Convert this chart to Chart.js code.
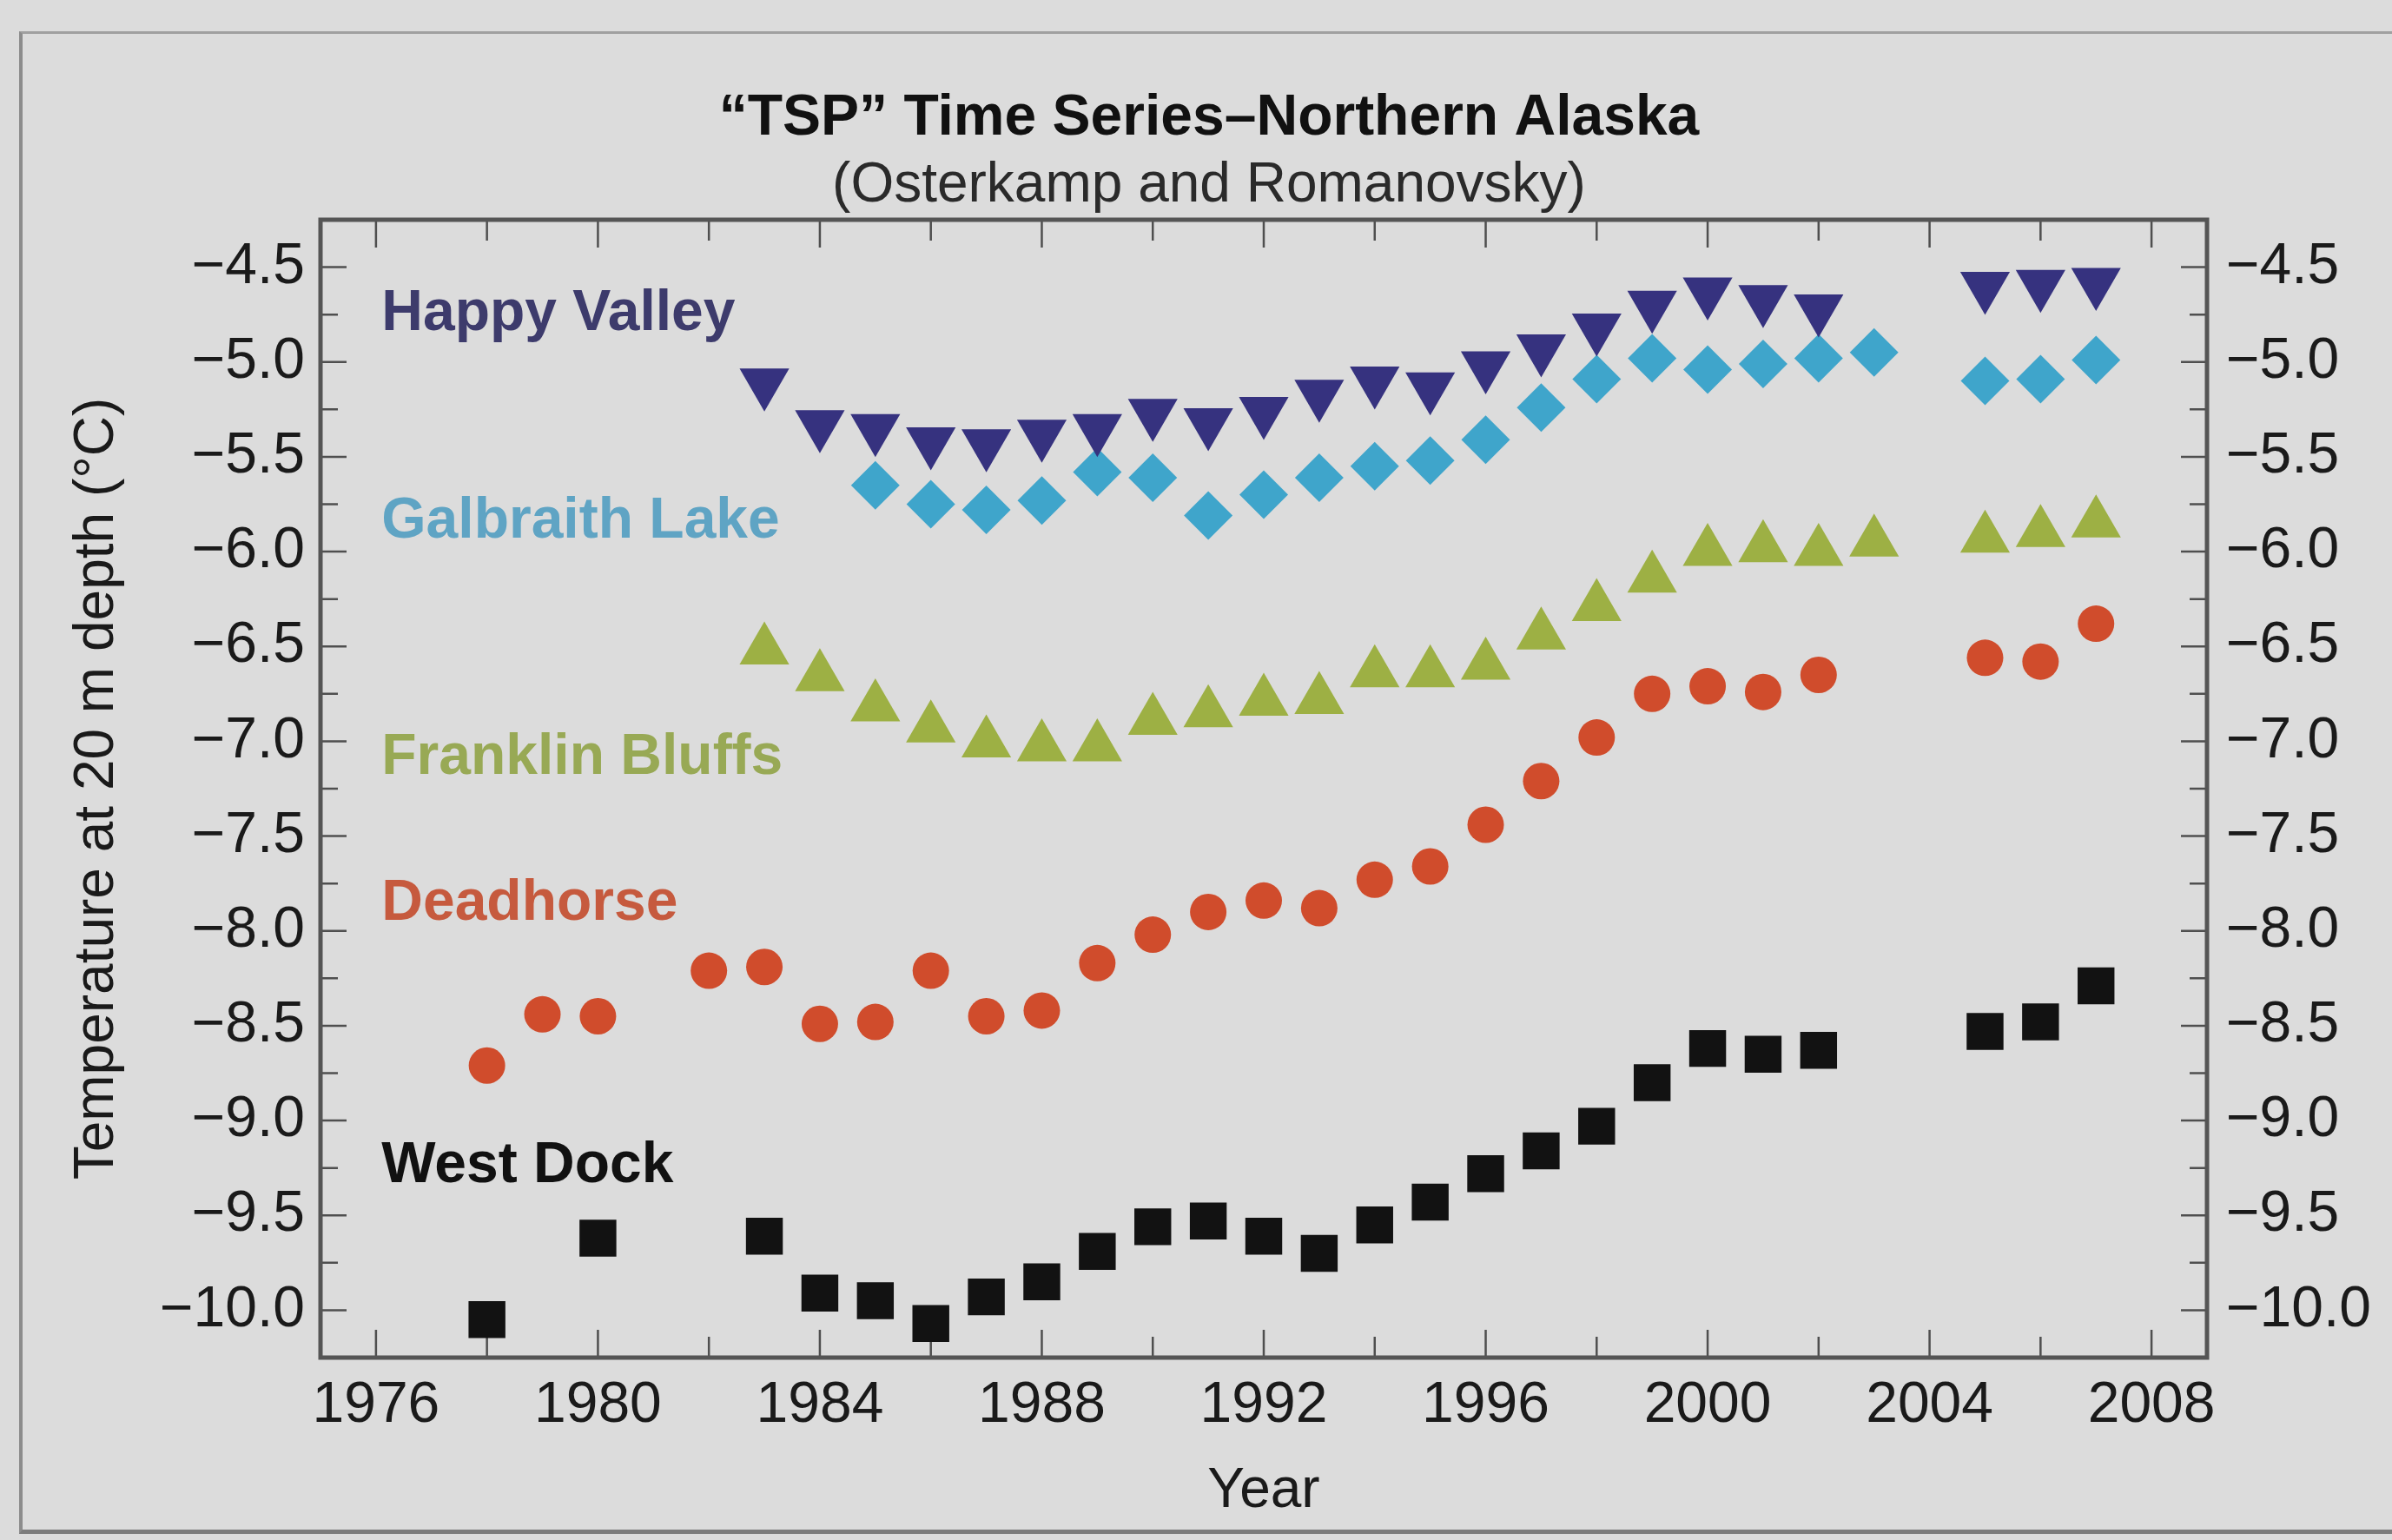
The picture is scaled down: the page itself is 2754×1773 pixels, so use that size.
<!DOCTYPE html>
<html>
<head>
<meta charset="utf-8">
<title>TSP Time Series - Northern Alaska</title>
<script src="https://cdn.jsdelivr.net/npm/chart.js@4.4.1/dist/chart.umd.min.js"></script>
<style>
  html, body { margin: 0; padding: 0; background: #dcdcdc; }
  #wrap { position: relative; width: 2754px; height: 1773px; overflow: hidden; }
  #page { position: absolute; left: 22px; top: 36px; width: 2800px; height: 1722px;
          border-left: 4px solid #8c8c8c; border-top: 3px solid #a0a0a0; border-bottom: 5px solid #7c7c7c; }
  canvas { position: absolute; left: 0; top: 0; }
</style>
</head>
<body>
<div id="wrap">
  <div id="page"></div>
  <canvas id="tspChart" width="2754" height="1773"></canvas>
</div>
<script>
// years on the axis and temperature ticks (deg C at 20 m depth)
const yearTicks = [1976, 1980, 1984, 1988, 1992, 1996, 2000, 2004, 2008];
const tempTicks = [-10.0, -9.5, -9.0, -8.5, -8.0, -7.5, -7.0, -6.5, -6.0, -5.5, -5.0, -4.5];

const hvYears = [1983, 1984, 1985, 1986, 1987, 1988, 1989, 1990, 1991, 1992, 1993, 1994, 1995, 1996, 1997, 1998, 1999, 2000, 2001, 2002, 2005, 2006, 2007];
const hvTemps = [-5.11, -5.33, -5.35, -5.42, -5.43, -5.38, -5.35, -5.27, -5.32, -5.26, -5.17, -5.10, -5.13, -5.02, -4.93, -4.82, -4.70, -4.63, -4.67, -4.72, -4.60, -4.59, -4.58];

const glYears = [1985, 1986, 1987, 1988, 1989, 1990, 1991, 1992, 1993, 1994, 1995, 1996, 1997, 1998, 1999, 2000, 2001, 2002, 2003, 2005, 2006, 2007];
const glTemps = [-5.65, -5.75, -5.78, -5.73, -5.58, -5.61, -5.81, -5.70, -5.61, -5.55, -5.52, -5.41, -5.24, -5.09, -4.98, -5.04, -5.01, -4.98, -4.95, -5.10, -5.09, -4.99];

const fbYears = [1983, 1984, 1985, 1986, 1987, 1988, 1989, 1990, 1991, 1992, 1993, 1994, 1995, 1996, 1997, 1998, 1999, 2000, 2001, 2002, 2003, 2005, 2006, 2007];
const fbTemps = [-6.52, -6.66, -6.82, -6.93, -7.01, -7.03, -7.03, -6.89, -6.85, -6.79, -6.78, -6.64, -6.64, -6.60, -6.44, -6.29, -6.14, -6.00, -5.98, -6.00, -5.95, -5.93, -5.90, -5.85];

const dhYears = [1978, 1979, 1980, 1982, 1983, 1984, 1985, 1986, 1987, 1988, 1989, 1990, 1991, 1992, 1993, 1994, 1995, 1996, 1997, 1998, 1999, 2000, 2001, 2002, 2005, 2006, 2007];
const dhTemps = [-8.71, -8.44, -8.45, -8.21, -8.19, -8.49, -8.48, -8.21, -8.45, -8.42, -8.17, -8.02, -7.90, -7.84, -7.88, -7.73, -7.66, -7.44, -7.21, -6.98, -6.75, -6.71, -6.74, -6.65, -6.56, -6.58, -6.38];

const wdYears = [1978, 1980, 1983, 1984, 1985, 1986, 1987, 1988, 1989, 1990, 1991, 1992, 1993, 1994, 1995, 1996, 1997, 1998, 1999, 2000, 2001, 2002, 2005, 2006, 2007];
const wdTemps = [-10.05, -9.62, -9.61, -9.91, -9.95, -10.07, -9.93, -9.85, -9.69, -9.56, -9.53, -9.61, -9.70, -9.55, -9.43, -9.28, -9.16, -9.03, -8.80, -8.62, -8.65, -8.63, -8.53, -8.48, -8.29];

const FONT = '"Liberation Sans", Arial, sans-serif';
Chart.defaults.font.family = FONT;
Chart.defaults.color = '#1a1a1a';

function points(years, temps) {
  return years.map((yr, i) => ({ x: yr, y: temps[i] }));
}

function fmtTemp(v) {
  return (v < 0 ? '\u2212' : '') + Math.abs(v).toFixed(1);
}

// frame of the plot with inward tick marks on all four sides
const frameTicks = {
  id: 'frameTicks',
  beforeDatasetsDraw(chart) {
    const { ctx, chartArea: a, scales: { x, y } } = chart;
    ctx.save();
    ctx.strokeStyle = '#4f4f4f';
    ctx.lineWidth = 2.5;
    ctx.beginPath();
    for (let v = -10; v <= -4.5 + 1e-9; v += 0.25) {
      const py = y.getPixelForValue(v);
      const major = Math.abs(v * 2 - Math.round(v * 2)) < 1e-6;
      const len = major ? 30 : 20;
      ctx.moveTo(a.left, py); ctx.lineTo(a.left + len, py);
      ctx.moveTo(a.right, py); ctx.lineTo(a.right - len, py);
    }
    for (let yr = 1976; yr <= 2008; yr += 2) {
      const px = x.getPixelForValue(yr);
      const len = yr % 4 === 0 ? 32 : 24;
      ctx.moveTo(px, a.bottom); ctx.lineTo(px, a.bottom - len);
      ctx.moveTo(px, a.top); ctx.lineTo(px, a.top + len);
    }
    ctx.stroke();
    ctx.lineWidth = 5;
    ctx.strokeStyle = '#555555';
    ctx.strokeRect(a.left, a.top, a.width, a.height);
    ctx.restore();
  }
};

// station names written inside the plot
const stationLabels = {
  id: 'stationLabels',
  afterDatasetsDraw(chart, args, opts) {
    const { ctx, scales: { x, y } } = chart;
    ctx.save();
    ctx.font = 'bold 66px ' + FONT;
    ctx.textBaseline = 'middle';
    ctx.textAlign = 'left';
    chart.data.datasets.forEach((ds, i) => {
      const at = opts.anchors[i];
      ctx.fillStyle = opts.colors[i];
      ctx.fillText(ds.label, x.getPixelForValue(at[0]), y.getPixelForValue(at[1]));
    });
    ctx.restore();
  }
};

const ctx = document.getElementById('tspChart').getContext('2d');
new Chart(ctx, {
  type: 'scatter',
  data: {
    datasets: [
      { label: 'Happy Valley', data: points(hvYears, hvTemps), pointStyle: 'triangle', rotation: 180,
        pointRadius: 33, backgroundColor: '#36327f', borderWidth: 0 },
      { label: 'Galbraith Lake', data: points(glYears, glTemps), pointStyle: 'rectRot',
        pointRadius: 28, backgroundColor: '#3fa5cb', borderWidth: 0 },
      { label: 'Franklin Bluffs', data: points(fbYears, fbTemps), pointStyle: 'triangle',
        pointRadius: 33, backgroundColor: '#9db044', borderWidth: 0 },
      { label: 'Deadhorse', data: points(dhYears, dhTemps), pointStyle: 'circle',
        pointRadius: 21, backgroundColor: '#d04c2c', borderWidth: 0 },
      { label: 'West Dock', data: points(wdYears, wdTemps), pointStyle: 'rect',
        pointRadius: 30, backgroundColor: '#121212', borderWidth: 0 }
    ]
  },
  options: {
    responsive: false,
    devicePixelRatio: 1,
    animation: false,
    layout: { padding: { left: 30, right: 0, top: 0, bottom: 0 } },
    plugins: {
      legend: { display: false },
      tooltip: { enabled: false },
      title: {
        display: true,
        text: '\u201CTSP\u201D Time Series\u2013Northern Alaska',
        color: '#111111',
        font: { size: 66, weight: 'bold' },
        padding: { top: 97, bottom: 0 }
      },
      subtitle: {
        display: true,
        text: '(Osterkamp and Romanovsky)',
        color: '#2a2a2a',
        font: { size: 64, weight: 'normal' },
        padding: { top: 0, bottom: 0 }
      },
      stationLabels: {
        anchors: [[1976.1, -4.75], [1976.1, -5.845], [1976.1, -7.09], [1976.1, -7.86], [1976.1, -9.24]],
        colors: ['#3d3b6c', '#5fa4c4', '#98a955', '#c65a3e', '#111111']
      }
    },
    scales: {
      x: {
        type: 'linear',
        position: 'bottom',
        min: 1975,
        max: 2009,
        grid: { display: false, drawTicks: false },
        border: { display: false },
        afterBuildTicks: s => { s.ticks = yearTicks.map(v => ({ value: v })); },
        afterFit: s => { s.height = 210; },
        ticks: { font: { size: 66 }, padding: 16, maxRotation: 0, callback: v => String(v) },
        title: { display: true, text: 'Year', font: { size: 64 }, padding: { top: 0, bottom: 17 } }
      },
      y: {
        type: 'linear',
        position: 'left',
        min: -10.25,
        max: -4.25,
        grid: { display: false, drawTicks: false },
        border: { display: false },
        afterBuildTicks: s => { s.ticks = tempTicks.map(v => ({ value: v })); },
        afterFit: s => { s.width = 339; },
        ticks: { font: { size: 66 }, padding: 18, callback: v => fmtTemp(v) },
        title: { display: true, text: 'Temperature at 20 m depth (\u00B0C)', font: { size: 64 }, padding: { top: 44, bottom: 0 } }
      },
      yRight: {
        type: 'linear',
        position: 'right',
        min: -10.25,
        max: -4.25,
        grid: { display: false, drawTicks: false },
        border: { display: false },
        afterBuildTicks: s => { s.ticks = tempTicks.map(v => ({ value: v })); },
        afterFit: s => { s.width = 213; },
        ticks: { font: { size: 66 }, padding: 22, callback: v => fmtTemp(v) }
      }
    }
  },
  plugins: [frameTicks, stationLabels]
});
</script>
</body>
</html>
